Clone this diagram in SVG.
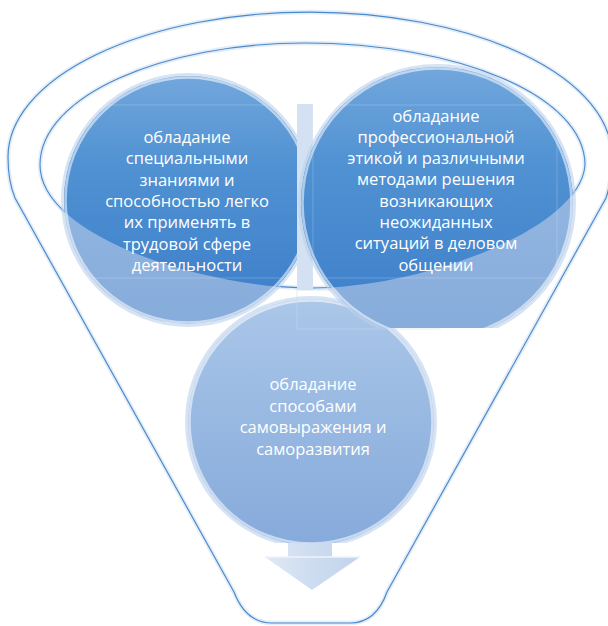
<svg xmlns="http://www.w3.org/2000/svg" width="608" height="626" viewBox="0 0 608 626">
  <defs>
    <style>
      .label { font-family: "Open Sans", "Noto Sans", "DejaVu Sans", sans-serif; font-size: 16.5px; fill: #ffffff; text-anchor: middle; }
      .glow { fill: none; stroke: #cfe1f4; stroke-width: 4.5; stroke-opacity: 0.6; }
      .edge { fill: none; stroke: #4a88cb; stroke-width: 1.15; }
      .rim-edge { fill: none; stroke: #4a88cb; stroke-width: 1.1; }
      .ring { fill: none; stroke: #ffffff; stroke-width: 2.5; stroke-opacity: 0.55; }
      .halo { fill: none; stroke: #b9d0ec; stroke-width: 3; stroke-opacity: 0.6; }
      .box { fill: none; stroke: #ffffff; stroke-width: 0.8; stroke-opacity: 0.25; }
    </style>
    <linearGradient id="deep" x1="0" y1="0" x2="0" y2="1">
      <stop offset="0" stop-color="#72a7dc"/>
      <stop offset="0.35" stop-color="#5192d3"/>
      <stop offset="1" stop-color="#3b7dc9"/>
    </linearGradient>
    <linearGradient id="pale" x1="0" y1="0" x2="0" y2="1">
      <stop offset="0" stop-color="#9dbde5"/>
      <stop offset="1" stop-color="#86acdb"/>
    </linearGradient>
    <linearGradient id="lower" x1="0" y1="0" x2="0" y2="1">
      <stop offset="0" stop-color="#abc7e9"/>
      <stop offset="0.5" stop-color="#97b8e1"/>
      <stop offset="1" stop-color="#86aadb"/>
    </linearGradient>
    <linearGradient id="arrowFill" x1="0" y1="0" x2="1" y2="0">
      <stop offset="0" stop-color="#e0e9f6"/>
      <stop offset="0.5" stop-color="#cddcf0"/>
      <stop offset="1" stop-color="#c2d3ec"/>
    </linearGradient>
    <!-- opening of the funnel: circles look deeper inside it -->
    <clipPath id="opening">
      <path d="M 40,165 C 40,95 165,43 305,43 C 455,43 585,95 585,165 C 580,230 420,288 312,288 C 200,288 40,235 40,165 Z"/>
    </clipPath>
    <clipPath id="cutLeft">
      <rect x="0" y="0" width="298" height="327"/>
    </clipPath>
    <clipPath id="cutRight">
      <rect x="0" y="0" width="608" height="328"/>
    </clipPath>
    <clipPath id="cutBottom">
      <rect x="0" y="0" width="608" height="543"/>
    </clipPath>
  </defs>

  <rect x="0" y="0" width="608" height="626" fill="#ffffff"/>

  <!-- funnel body with its rim -->
  <g id="funnel">
    <path d="M 8,157 A 302,145 0 0 1 612,157 C 612,172 610,186 606,198 L 387,592 Q 376,623 350,623 L 272,623 Q 246,623 234,592 L 15,198 C 10,186 8,172 8,157 Z" fill="#ffffff"/>
    <path class="glow" d="M 8,157 A 302,145 0 0 1 612,157 C 612,172 610,186 606,198 L 387,592 Q 376,623 350,623 L 272,623 Q 246,623 234,592 L 15,198 C 10,186 8,172 8,157 Z"/>
    <path class="edge" d="M 8,157 A 302,145 0 0 1 612,157 C 612,172 610,186 606,198 L 387,592 Q 376,623 350,623 L 272,623 Q 246,623 234,592 L 15,198 C 10,186 8,172 8,157 Z"/>
    <path class="glow" d="M 40,165 C 40,95 165,43 305,43 C 455,43 585,95 585,165 C 580,230 420,288 312,288 C 200,288 40,235 40,165 Z"/>
    <path class="rim-edge" d="M 40,165 C 40,95 165,43 305,43 C 455,43 585,95 585,165 C 580,230 420,288 312,288 C 200,288 40,235 40,165 Z"/>
  </g>

  <!-- downward flow arrow under the funnel -->
  <g id="connectors">
    <path d="M 288,543 H 332 V 557 H 360 L 312,590 L 265,557 H 288 Z" fill="url(#arrowFill)"/>
    <path d="M 265,557 H 360" stroke="#eef3fa" stroke-width="1.5" fill="none"/>
  </g>

  <!-- bottom node -->
  <g id="node-3">
    <g clip-path="url(#cutBottom)">
      <circle class="halo" cx="311" cy="422" r="124.5"/>
      <circle cx="311" cy="422" r="123" fill="url(#lower)"/>
      <circle class="ring" cx="311" cy="422" r="121.5"/>
    </g>
    <text class="label" x="313" y="390">обладание</text>
    <text class="label" x="313" y="411.5">способами</text>
    <text class="label" x="313" y="433">самовыражения и</text>
    <text class="label" x="313" y="454.5">саморазвития</text>
  </g>

  <!-- top left node -->
  <g id="node-1">
    <g clip-path="url(#cutLeft)">
      <circle class="halo" cx="188" cy="200" r="125.5"/>
      <circle cx="188" cy="200" r="124" fill="url(#pale)"/>
      <circle cx="188" cy="200" r="124" fill="url(#deep)" clip-path="url(#opening)"/>
      <circle class="ring" cx="188" cy="200" r="122.5"/>
    </g>
    <rect class="box" x="63" y="105" width="235" height="173"/>
    <text class="label" x="187" y="143">обладание</text>
    <text class="label" x="187" y="164.3">специальными</text>
    <text class="label" x="187" y="185.6">знаниями и</text>
    <text class="label" x="187" y="206.9">способностью легко</text>
    <text class="label" x="187" y="228.2">их применять в</text>
    <text class="label" x="187" y="249.5">трудовой сфере</text>
    <text class="label" x="187" y="270.8">деятельности</text>
  </g>

  <!-- pale gap between the two upper nodes -->
  <rect x="297" y="104" width="16" height="186" fill="#d3e1f2"/>
  <rect class="box" x="297" y="290" width="143" height="39" style="stroke:#c9daef;stroke-opacity:0.6"/>

  <!-- top right node -->
  <g id="node-2">
    <g clip-path="url(#cutRight)">
      <circle class="halo" cx="437" cy="203" r="137.5"/>
      <circle cx="437" cy="203" r="136" fill="url(#pale)"/>
      <circle cx="437" cy="203" r="136" fill="url(#deep)" clip-path="url(#opening)"/>
      <circle class="ring" cx="437" cy="203" r="134.5"/>
    </g>
    <rect class="box" x="313" y="105" width="244" height="173"/>
    <text class="label" x="436" y="121.5">обладание</text>
    <text class="label" x="436" y="142.8">профессиональной</text>
    <text class="label" x="436" y="164.1">этикой и различными</text>
    <text class="label" x="436" y="185.4">методами решения</text>
    <text class="label" x="436" y="206.7">возникающих</text>
    <text class="label" x="436" y="228">неожиданных</text>
    <text class="label" x="436" y="249.3">ситуаций в деловом</text>
    <text class="label" x="436" y="270.6">общении</text>
  </g>
</svg>
